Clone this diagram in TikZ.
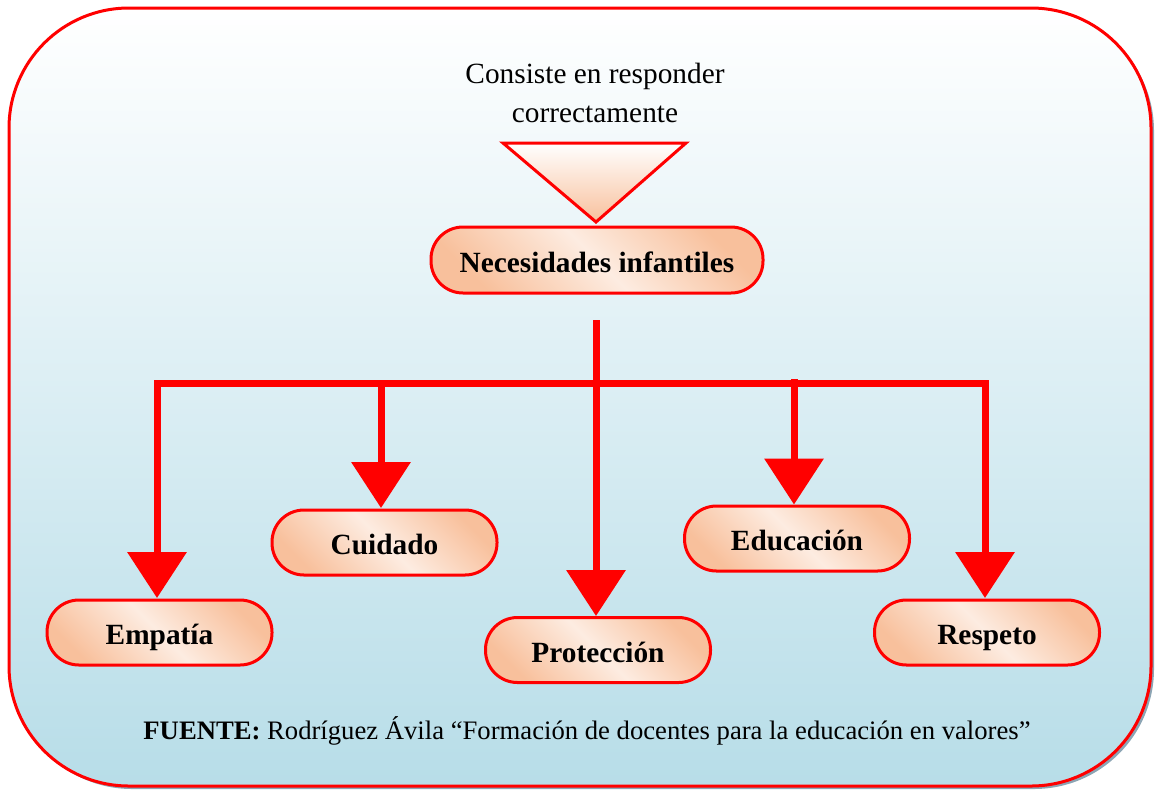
\documentclass[tikz,border=0pt]{standalone}
\usepackage{fontspec}
\setmainfont{Liberation Serif}
\usetikzlibrary{arrows.meta,calc}
\definecolor{peach}{RGB}{248,192,156}
\definecolor{peachlight}{RGB}{253,236,225}
\definecolor{bgbottom}{RGB}{183,221,232}
\definecolor{shadowc}{RGB}{140,165,180}
\tikzset{
  box/.style={draw=red, line width=2.25pt, rounded corners=24pt,
    minimum width=168.75pt, minimum height=48.75pt, inner sep=0pt,
    text height=18pt, text depth=0pt,
    left color=peach, right color=peach, middle color=peachlight, shading angle=135,
    font=\fontsize{22}{26}\selectfont\bfseries},
  conn/.style={draw=red, line width=5.25pt},
  arr/.style={conn, -{Triangle[width=43.5pt,length=34.5pt]}}
}
\begin{document}
\begin{tikzpicture}[x=0.75pt,y=-0.75pt]
\useasboundingbox (0,0) rectangle (1156,790);
% shadow and frame
\fill[shadowc, rounded corners=90pt] (12,11) rectangle (1154,789);
\shade[top color=white, bottom color=bgbottom, rounded corners=90pt] (9,8) rectangle (1151,786);
\draw[red, line width=2.25pt, rounded corners=90pt] (9,8) rectangle (1151,786);
% header text
\node[align=center, font=\fontsize{22}{29.25}\selectfont] (head) at (595,93) {Consiste en responder\\correctamente};
% triangle
\shade[top color=white, bottom color=peach] (503,143) -- (686,143) -- (596,222) -- cycle;
\draw[red, line width=2.25pt, line join=miter] (503,143) -- (686,143) -- (596,222) -- cycle;
% nodes
\node[box, minimum width=249pt, minimum height=49.5pt] (nec) at (597,260) {Necesidades infantiles};
\node[box] (emp) at (159.5,632.5) {Empatía};
\node[box] (cui) at (384.5,542.5) {Cuidado};
\node[box] (pro) at (598,650) {Protección};
\node[box] (edu) at (797,538.5) {Educación};
\node[box] (res) at (987,632.5) {Respeto};
% connectors
\coordinate (top) at (596,320);
\coordinate (bar) at (596,383);
\coordinate (eduTop) at (794,379);
\draw[conn, line cap=rect] (157,383) -- (985,383);
\draw[arr] (157,383) -- (157,598);
\draw[arr] (381,383) -- (381,508);
\draw[arr] (top) -- (pro.north -| top);
\draw[arr] (eduTop) -- (edu.north -| eduTop);
\draw[arr] (985,383) -- (985,598);
% footer
\node[font=\fontsize{20}{24}\selectfont] (src) at (587,731) {\textbf{FUENTE:} Rodríguez Ávila “Formación de docentes para la educación en valores”};
\end{tikzpicture}
\end{document}
